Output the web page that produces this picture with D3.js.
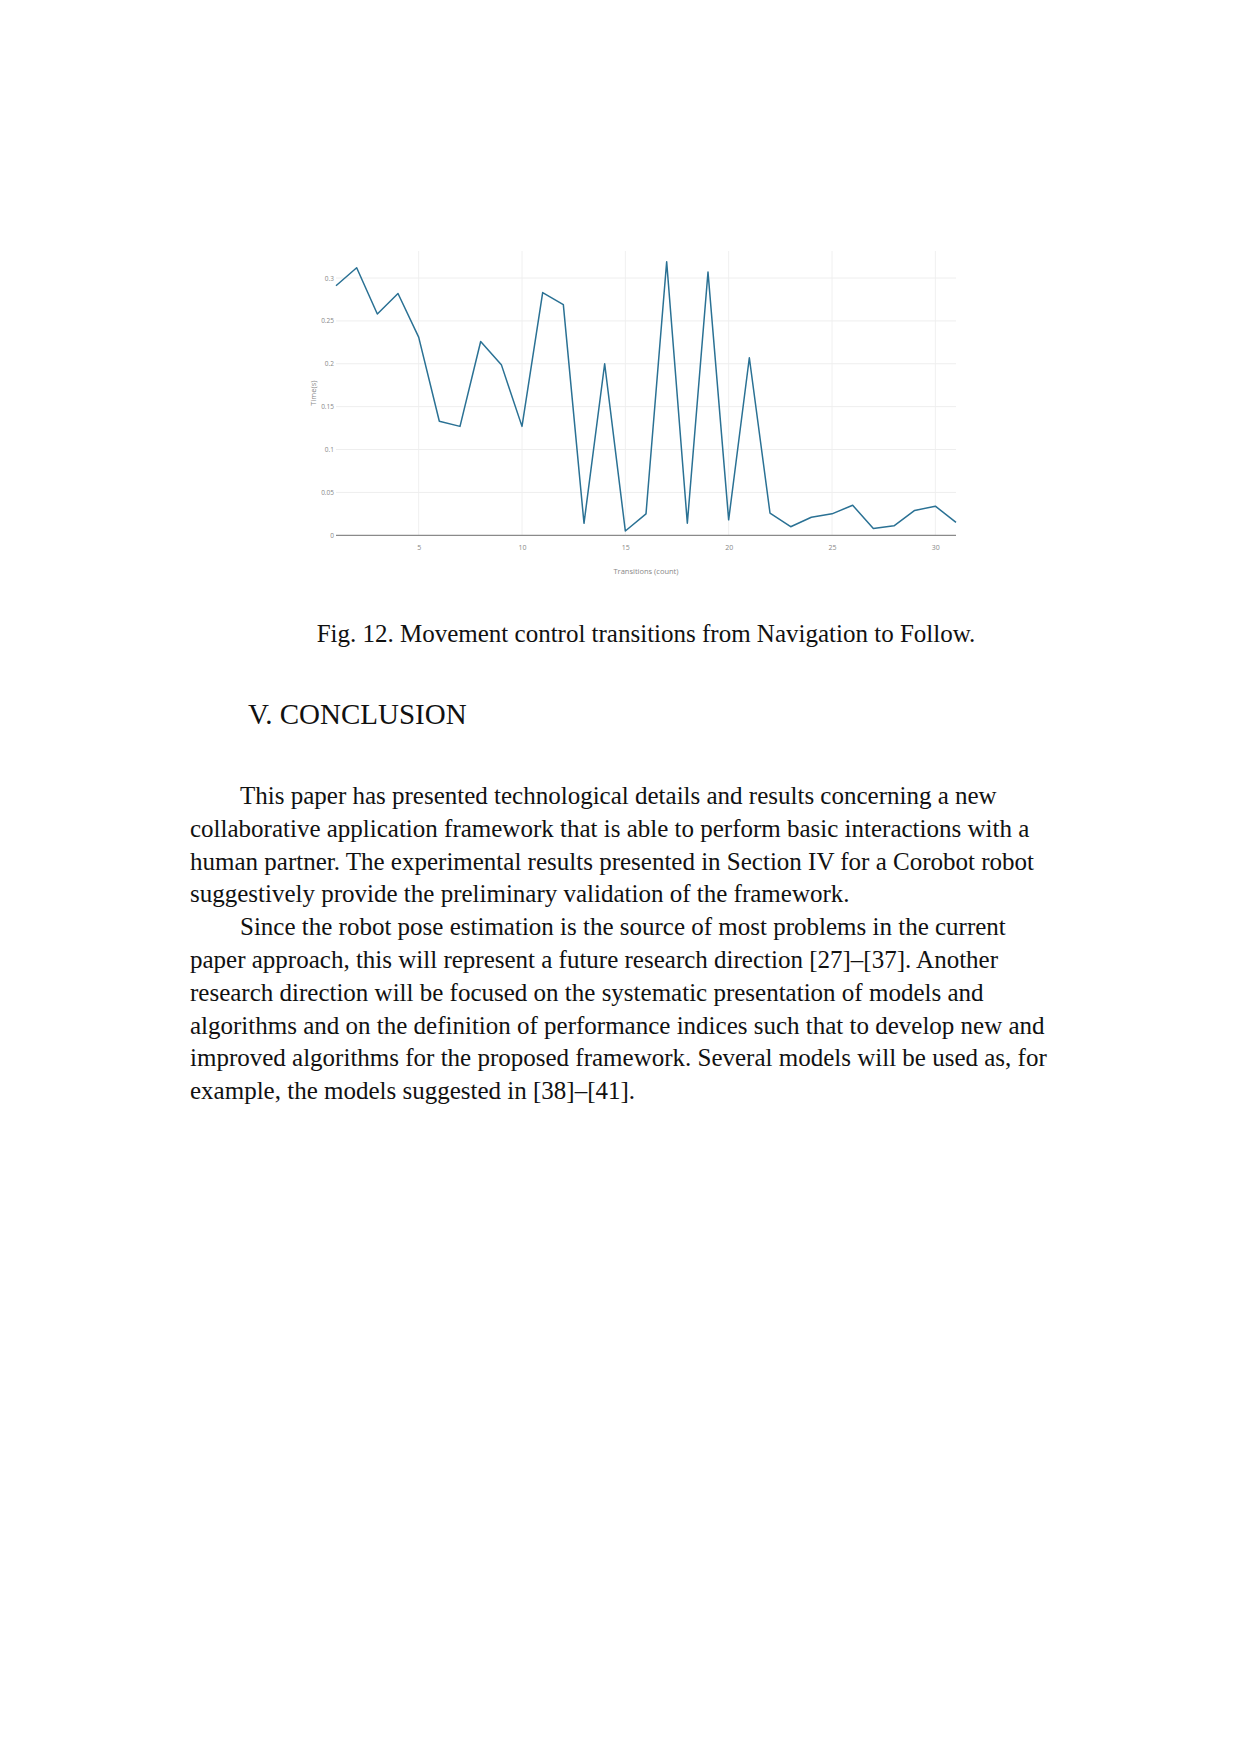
<!DOCTYPE html>
<html>
<head>
<meta charset="utf-8">
<script src="https://cdn.jsdelivr.net/npm/d3@7/dist/d3.min.js"></script>
<style>
html,body{margin:0;padding:0;background:#fff;}
svg{display:block;}
</style>
</head>
<body>
<script>
// ---- Data ----
const transitions = [1,2,3,4,5,6,7,8,9,10,11,12,13,14,15,16,17,18,19,20,21,22,23,24,25,26,27,28,29,30,31];
const timeValues = [0.291,0.312,0.258,0.282,0.231,0.133,0.127,0.226,0.199,0.127,0.283,0.269,0.014,0.200,0.005,0.025,0.319,0.014,0.307,0.018,0.207,0.026,0.010,0.021,0.025,0.035,0.008,0.011,0.029,0.034,0.015];
const xTicks = [5,10,15,20,25,30];
const yTicks = [0,0.05,0.1,0.15,0.2,0.25,0.3];
const yTickLabels = ["0","0.05","0.1","0.15","0.2","0.25","0.3"];
const xTitle = "Transitions (count)";
const yTitle = "Time(s)";
const caption = "Fig. 12. Movement control transitions from Navigation to Follow.";
const heading = "V. CONCLUSION";
const paragraphLines = [
  {t:"This paper has presented technological details and results concerning a new", indent:true},
  {t:"collaborative application framework that is able to perform basic interactions with a", indent:false},
  {t:"human partner. The experimental results presented in Section IV for a Corobot robot", indent:false},
  {t:"suggestively provide the preliminary validation of the framework.", indent:false},
  {t:"Since the robot pose estimation is the source of most problems in the current", indent:true},
  {t:"paper approach, this will represent a future research direction [27]–[37]. Another", indent:false},
  {t:"research direction will be focused on the systematic presentation of models and", indent:false},
  {t:"algorithms and on the definition of performance indices such that to develop new and", indent:false},
  {t:"improved algorithms for the proposed framework. Several models will be used as, for", indent:false},
  {t:"example, the models suggested in [38]–[41].", indent:false}
];

const W = 1240, H = 1754;
const svg = d3.select("body").append("svg").attr("width", W).attr("height", H);
svg.append("rect").attr("width", W).attr("height", H).attr("fill", "#fff");

// ---- Chart ----
const plot = {left:336, right:956, top:251, bottom:535.3};
const x = d3.scaleLinear().domain([1,31]).range([plot.left, plot.right]);
const y = d3.scaleLinear().domain([0,0.3315]).range([plot.bottom, plot.top]);

const g = svg.append("g");

// vertical grid
g.selectAll(".vgrid").data(xTicks).enter().append("line")
  .attr("x1", d=>x(d)).attr("x2", d=>x(d))
  .attr("y1", plot.top).attr("y2", plot.bottom)
  .attr("stroke", "#f0f0f0").attr("stroke-width", 1);
// horizontal grid
g.selectAll(".hgrid").data(yTicks.filter(d=>d>0)).enter().append("line")
  .attr("x1", plot.left).attr("x2", plot.right)
  .attr("y1", d=>y(d)).attr("y2", d=>y(d))
  .attr("stroke", "#eeeeee").attr("stroke-width", 1);

// line
const line = d3.line().x((d,i)=>x(transitions[i])).y(d=>y(d));
g.append("path").datum(timeValues)
  .attr("d", line)
  .attr("fill", "none")
  .attr("stroke", "#2a7194")
  .attr("stroke-width", 1.5)
  .attr("stroke-linejoin", "round");

// zero line
g.append("line")
  .attr("x1", plot.left).attr("x2", plot.right)
  .attr("y1", y(0)).attr("y2", y(0))
  .attr("stroke", "#8a8a8a").attr("stroke-width", 1.3);

// axes via d3 axis (labels only)
const xAxis = d3.axisBottom(x).tickValues(xTicks).tickSize(0).tickPadding(0).tickFormat(d3.format("d"));
const xg = g.append("g").attr("transform", `translate(0,${plot.bottom + 12})`).call(xAxis);
xg.select(".domain").remove();
xg.selectAll("text").attr("font-family", "Open Sans, sans-serif").attr("font-size", 7).attr("fill", "#888").attr("dy", "0.35em").attr("y", 0);

const yAxis = d3.axisLeft(y).tickValues(yTicks).tickSize(0).tickPadding(2).tickFormat((d,i)=>yTickLabels[i]);
const yg = g.append("g").attr("transform", `translate(${plot.left},0)`).call(yAxis);
yg.select(".domain").remove();
yg.selectAll("text").attr("font-family", "Open Sans, sans-serif").attr("font-size", 6.5).attr("fill", "#888");

// axis titles
g.append("text").attr("x", (plot.left+plot.right)/2).attr("y", 574)
  .attr("text-anchor", "middle").attr("font-family", "Open Sans, sans-serif")
  .attr("font-size", 7.5).attr("fill", "#888").text(xTitle);
g.append("text").attr("transform", `translate(316,${(plot.top+plot.bottom)/2}) rotate(-90)`)
  .attr("text-anchor", "middle").attr("font-family", "Open Sans, sans-serif")
  .attr("font-size", 7.5).attr("fill", "#888").text(yTitle);

// ---- Caption and body text ----
const serif = "'Liberation Serif', 'Times New Roman', serif";
svg.append("text").attr("x", 646).attr("y", 642).attr("text-anchor", "middle")
  .attr("font-family", serif).attr("font-size", 25).attr("fill", "#111").text(caption);

svg.append("text").attr("x", 248).attr("y", 724)
  .attr("font-family", serif).attr("font-size", 29).attr("fill", "#111").text(heading);

svg.selectAll(".para").data(paragraphLines).enter().append("text")
  .attr("x", d=> d.indent ? 240 : 190)
  .attr("y", (d,i)=> 804 + i*32.8)
  .attr("font-family", serif).attr("font-size", 25).attr("fill", "#111")
  .text(d=>d.t);
</script>
</body>
</html>
